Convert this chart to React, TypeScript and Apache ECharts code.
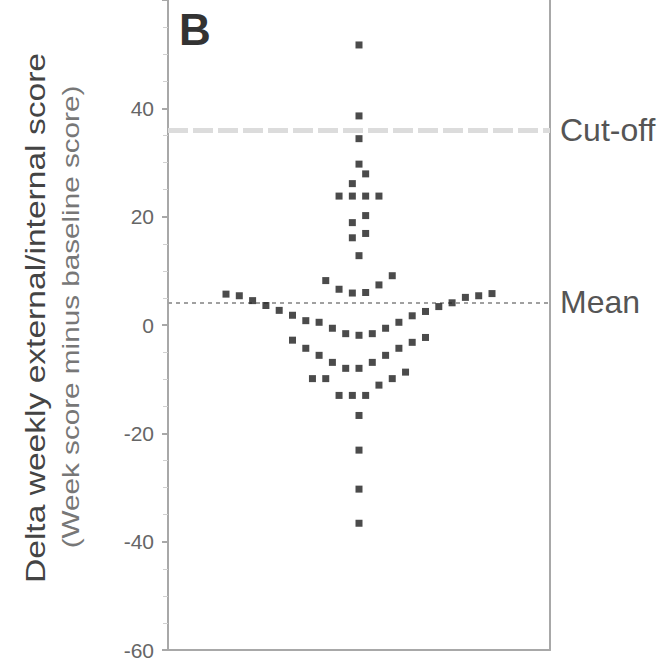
import React, { useEffect, useRef } from "react";
import * as echarts from "echarts";

// ---- data ----
const scores: number[] = [
  // high responders
  51.7, 38.6, 34.4, 29.7, 27.9, 26.1, 23.8, 23.8, 23.8, 23.8, 20.2, 18.9, 16.9, 16.1, 12.8,
  // just above the mean
  9.1, 8.2, 7.4, 6.6, 6.0, 5.9,
  // around the mean
  5.8, 5.7, 5.4, 5.4, 5.1, 4.5, 4.1, 3.6, 3.4, 2.7, 2.5, 1.8, 1.7, 0.8, 0.5, 0.5, -0.6, -0.6, -1.6, -1.6, -1.9,
  // below the mean
  -2.3, -2.8, -3.2, -4.3, -4.3, -5.6, -5.6, -6.9, -6.9, -8.0, -8.0,
  -8.7, -9.9, -9.9, -9.9, -11.1, -13.0, -13.0, -13.0,
  -16.7, -23.1, -30.3, -36.6,
];
const cutOffScore = 36;
const meanScore = 4.2;
const yTicks = [-60, -40, -20, 0, 20, 40, 60];
const panelLetter = "B";
const yTitle = "Delta weekly external/internal score";
const ySubTitle = "(Week score minus baseline score)";

// ---- layout parameters of the dot swarm (not data) ----
const swarmRowEdges = [-40, -33, -26, -20, -14.5, -8.4, -2.1, 5.85, 10.5, 15, 18, 22, 25, 29, 32, 36, 45, 60];
const GRID_LEFT = 168;
const GRID_RIGHT = 119;
const WIDTH = 669;
const HEIGHT = 664;
const DOT_PITCH_PX = 13.3;

function swarmOffsets(values: number[], edges: number[], slot: number): number[] {
  const rows: number[][] = edges.map(() => []);
  values.forEach((v, i) => {
    let r = 0;
    for (let k = 0; k < edges.length - 1; k++) {
      if (v >= edges[k] && v < edges[k + 1]) { r = k; break; }
    }
    rows[r].push(i);
  });
  const xs = new Array(values.length).fill(0);
  rows.forEach((idx) => {
    const sorted = idx.slice().sort((a, b) => values[a] - values[b]);
    const n = sorted.length;
    sorted.forEach((id, j) => {
      let pos: number;
      if (n % 2 === 1) {
        pos = j === 0 ? 0 : (j % 2 === 1 ? -1 : 1) * Math.ceil(j / 2);
      } else {
        pos = (j % 2 === 0 ? -1 : 1) * (Math.floor(j / 2) + 0.5);
      }
      xs[id] = pos * slot;
    });
  });
  return xs;
}

export default function App() {
  const ref = useRef<HTMLDivElement>(null);
  useEffect(() => {
    if (!ref.current) return;
    const chart = echarts.init(ref.current, undefined, { renderer: "svg" });
    const plotWidth = WIDTH - GRID_LEFT - GRID_RIGHT;
    const slot = DOT_PITCH_PX / (plotWidth / 2);
    const xs = swarmOffsets(scores, swarmRowEdges, slot);
    const font = '"Liberation Sans", Arial, sans-serif';
    const axisGray = "#a8a8a8";

    chart.setOption({
      animation: false,
      backgroundColor: "#ffffff",
      grid: { left: GRID_LEFT, right: GRID_RIGHT, top: 0, bottom: 14, containLabel: false },
      xAxis: {
        type: "value",
        min: -1,
        max: 1,
        axisLine: { show: true, onZero: false, lineStyle: { color: axisGray, width: 2 } },
        axisTick: { show: false },
        axisLabel: { show: false },
        splitLine: { show: false },
      },
      yAxis: [
        {
          type: "value",
          position: "left",
          min: yTicks[0],
          max: yTicks[yTicks.length - 1],
          interval: 20,
          axisLine: { show: true, onZero: false, lineStyle: { color: axisGray, width: 2 } },
          axisTick: { show: true, length: 6, lineStyle: { color: axisGray, width: 2 } },
          minorTick: { show: true, splitNumber: 4, length: 5, lineStyle: { color: "#d0d0d0", width: 1 } },
          axisLabel: { color: "#666", fontSize: 21, fontFamily: font, margin: 14, showMaxLabel: false },
          splitLine: { show: false },
        },
        {
          type: "value",
          position: "right",
          min: yTicks[0],
          max: yTicks[yTicks.length - 1],
          interval: 20,
          axisLine: { show: true, onZero: false, lineStyle: { color: axisGray, width: 2 } },
          axisTick: { show: false },
          axisLabel: { show: false },
          splitLine: { show: false },
        },
      ],
      graphic: [
        {
          type: "text",
          x: 179,
          y: 7,
          style: { text: panelLetter, font: `bold 44px ${font}`, fill: "#333", verticalAlign: "top" },
        },
        {
          type: "text",
          x: 35,
          y: 318,
          rotation: Math.PI / 2,
          scaleX: 1.2,
          style: { text: yTitle, font: `28px ${font}`, fill: "#444", align: "center", verticalAlign: "middle" },
        },
        {
          type: "text",
          x: 71,
          y: 317,
          rotation: Math.PI / 2,
          scaleX: 1.29,
          style: { text: ySubTitle, font: `23px ${font}`, fill: "#777", align: "center", verticalAlign: "middle" },
        },
      ],
      series: [
        {
          type: "scatter",
          symbol: "rect",
          symbolSize: 7,
          itemStyle: { color: "#1e1e1e" },
          data: scores.map((v, i) => [xs[i], v]),
          z: 5,
          markLine: {
            silent: true,
            symbol: ["none", "none"],
            z: 2,
            data: [
              {
                yAxis: cutOffScore,
                lineStyle: { color: "#dcdcdc", width: 5, type: [20, 5] },
                label: { show: true, position: "end", formatter: "Cut-off", color: "#555", fontSize: 32, fontFamily: font, distance: 10 },
              },
              {
                yAxis: meanScore,
                lineStyle: { color: "#a0a0a0", width: 2, type: [4, 4] },
                label: { show: true, position: "end", formatter: "Mean", color: "#555", fontSize: 32, fontFamily: font, distance: 10 },
              },
            ],
          },
        },
      ],
    });
    return () => chart.dispose();
  }, []);
  return <div ref={ref} style={{ position: "fixed", left: 0, top: 0, width: WIDTH, height: HEIGHT }} />;
}
